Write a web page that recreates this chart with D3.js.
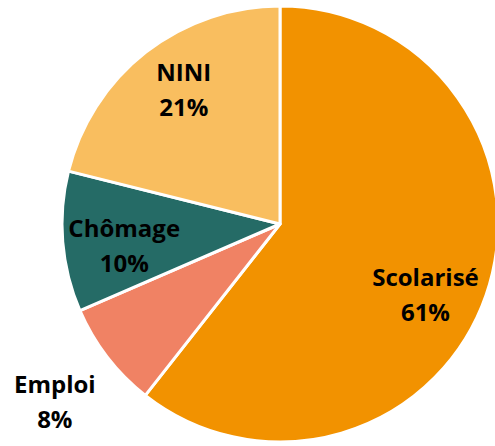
<!DOCTYPE html>
<html>
<head>
<meta charset="utf-8">
<script src="https://cdn.jsdelivr.net/npm/d3@7"></script>
<style>
  body { margin: 0; background: #fff; }
  svg { display: block; }
</style>
</head>
<body>
<div id="chart"></div>
<script>
// shares; labels show the rounded value
let categories = ["Scolarisé", "Emploi", "Chômage", "NINI"]
let shares = [60.6, 7.9, 10.4, 21.1]
let colours = ["#F29200", "#F08264", "#256B66", "#F9BE5F"]

let dims = { width: 495, height: 446 }
let cx = 280, cy = 224, radius = 218
// small label nudges (px) on top of the computed centroid, like Excel's placement
let labelNudge = { "Scolarisé": [-7, 17], "Emploi": [1, 3], "Chômage": [5, 8], "NINI": [3, -8] }

let pieData = categories.map(function (c, i) { return { cat: c, value: shares[i] } })

const svg = d3.select("#chart")
  .append("svg")
  .attr("width", dims.width)
  .attr("height", dims.height)
  .append("g")
  .attr("transform", `translate(${cx},${cy})`)

let pie = d3.pie()
  .value(d => d.value)
  .sort(null)

let arc = d3.arc().innerRadius(0).outerRadius(radius)
let insideArc = d3.arc().innerRadius(radius * 0.74).outerRadius(radius * 0.74)
let outsideArc = d3.arc().innerRadius(radius * 1.31).outerRadius(radius * 1.31)

let arcs = pie(pieData)

svg.selectAll("path")
  .data(arcs)
  .join("path")
  .attr("d", arc)
  .attr("fill", (d, i) => colours[i])
  .attr("stroke", "#fff")
  .attr("stroke-width", 3)
  .attr("stroke-linejoin", "round")

let labels = svg.selectAll("text.lbl")
  .data(arcs)
  .join("text")
  .attr("class", "lbl")
  .attr("transform", function (d) {
    let p = d.data.value < 9 ? outsideArc.centroid(d) : insideArc.centroid(d)
    let n = labelNudge[d.data.cat]
    return `translate(${p[0] + n[0]},${p[1] + n[1]})`
  })
  .attr("text-anchor", "middle")
  .style("font-family", "'Open Sans', sans-serif")
  .style("font-weight", "bold")
  .style("font-size", "24px")
  .attr("fill", "#000")

labels.append("tspan")
  .attr("x", 0)
  .attr("y", -8)
  .text(d => d.data.cat)
labels.append("tspan")
  .attr("x", 0)
  .attr("y", 27)
  .text(d => Math.round(d.data.value) + "%")
</script>
</body>
</html>
